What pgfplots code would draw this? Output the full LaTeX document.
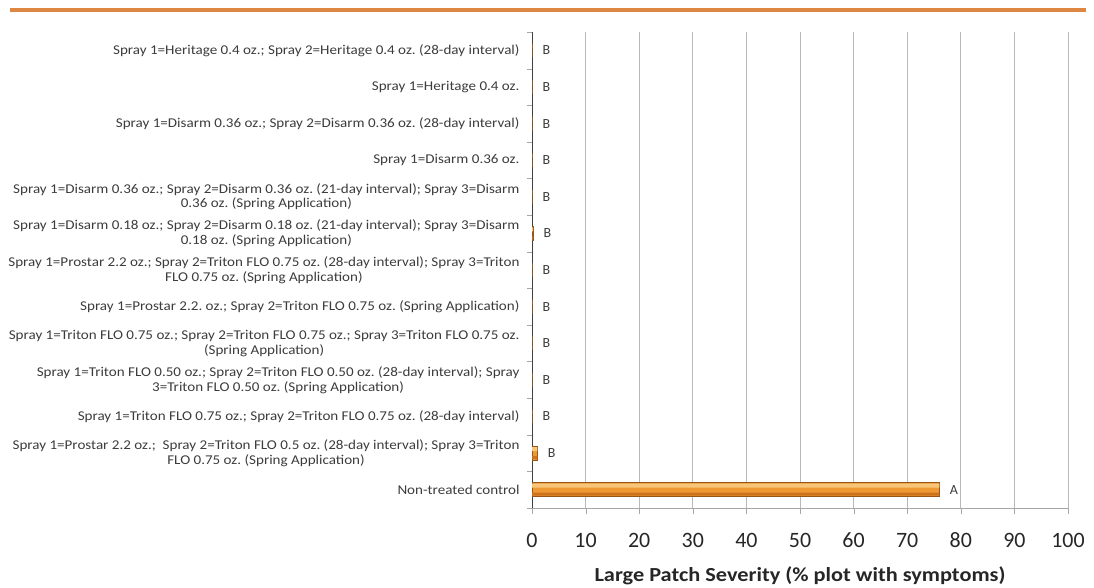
\documentclass[border=0pt]{standalone}
\usepackage{pgfplots}
\pgfplotsset{compat=1.18}
\usepackage{pgfplotstable}
\usepackage{fontspec}
\setmainfont{Carlito}
\newfontfamily\labelfont[FakeStretch=1.12]{Carlito}
\frenchspacing

\definecolor{barmid}{RGB}{238,153,52}
\definecolor{bartop}{RGB}{248,198,120}
\definecolor{barbot}{RGB}{205,115,32}
\definecolor{baredge}{RGB}{150,85,25}
\definecolor{rulecol}{RGB}{222,135,66}
\definecolor{txt}{RGB}{60,60,60}

% rows from bottom (0) to top (12)
\pgfplotstableread{
y x lbl
0 76 A
1 1.0 B
2 0 B
3 0 B
4 0 B
5 0 B
6 0 B
7 0.2 B
8 0 B
9 0 B
10 0 B
11 0 B
12 0 B
}\severity

\begin{document}
\begin{tikzpicture}
\path (0,0) rectangle (1094bp,587bp);
\draw[rulecol, line width=3.5bp] (10bp,577bp) -- (1086bp,577bp);
\begin{axis}[
  at={(532bp,79bp)}, anchor=south west,
  width=536bp, height=476bp, scale only axis,
  xmin=0, xmax=100, ymin=-0.5, ymax=12.5,
  axis x line=bottom, axis y line=left,
  axis line style={-, gray!70},
  y axis line style={black!75},
  xtick={0,10,...,100},
  ytick={0,...,12},
  minor ytick={-0.5,0.5,...,12.5},
  major tick length=0pt,
  minor tick length=5bp,
  tick pos=left, tick align=outside,
  extra x ticks={0,10,...,100}, extra x tick labels={},
  extra x tick style={major tick length=6bp, grid=none},
  xmajorgrids, grid style={gray!55, line width=1pt},
  tick style={gray!70},
  /pgf/number format/assume math mode=true,
  xticklabel style={font=\fontsize{22}{24}\selectfont, text=black!85,
    text height=15bp, text depth=0bp, yshift=-21bp},
  yticklabel style={font=\labelfont\fontsize{13.5}{15}\selectfont, text=txt, align=center, xshift=-9bp},
  yticklabels={
    {Non-treated control},
    {Spray 1=Prostar 2.2 oz.;\ \ Spray 2=Triton FLO 0.5 oz. (28-day interval); Spray 3=Triton\\FLO 0.75 oz. (Spring Application)},
    {Spray 1=Triton FLO 0.75 oz.; Spray 2=Triton FLO 0.75 oz. (28-day interval)},
    {Spray 1=Triton FLO 0.50 oz.; Spray 2=Triton FLO 0.50 oz. (28-day interval); Spray\\3=Triton FLO 0.50 oz. (Spring Application)},
    {Spray 1=Triton FLO 0.75 oz.; Spray 2=Triton FLO 0.75 oz.; Spray 3=Triton FLO 0.75 oz.\\(Spring Application)},
    {Spray 1=Prostar 2.2. oz.; Spray 2=Triton FLO 0.75 oz. (Spring Application)},
    {Spray 1=Prostar 2.2 oz.; Spray 2=Triton FLO 0.75 oz. (28-day interval); Spray 3=Triton\\FLO 0.75 oz. (Spring Application)},
    {Spray 1=Disarm 0.18 oz.; Spray 2=Disarm 0.18 oz. (21-day interval); Spray 3=Disarm\\0.18 oz. (Spring Application)},
    {Spray 1=Disarm 0.36 oz.; Spray 2=Disarm 0.36 oz. (21-day interval); Spray 3=Disarm\\0.36 oz. (Spring Application)},
    {Spray 1=Disarm 0.36 oz.},
    {Spray 1=Disarm 0.36 oz.; Spray 2=Disarm 0.36 oz. (28-day interval)},
    {Spray 1=Heritage 0.4 oz.},
    {Spray 1=Heritage 0.4 oz.; Spray 2=Heritage 0.4 oz. (28-day interval)}
  },
  xlabel={Large Patch Severity (\% plot with symptoms)},
  xlabel style={font=\labelfont\bfseries\fontsize{20}{22}\selectfont, text=black!85, yshift=-6bp},
]
% main bar
\addplot[xbar, bar width=14bp, draw=baredge, fill=barmid,
  nodes near coords, point meta=explicit symbolic,
  nodes near coords style={font=\fontsize{14}{16}\selectfont, text=txt, anchor=west, xshift=7bp}]
  table[x=x, y=y, meta=lbl] {\severity};
% light upper band and darker lower band to mimic the shaded bar
\addplot[xbar, bar width=4bp, bar shift=4bp, draw=none, fill=bartop]
  table[x=x, y=y] {\severity};
\addplot[xbar, bar width=3bp, bar shift=-4.5bp, draw=none, fill=barbot]
  table[x=x, y=y] {\severity};
\end{axis}
\end{tikzpicture}
\end{document}
